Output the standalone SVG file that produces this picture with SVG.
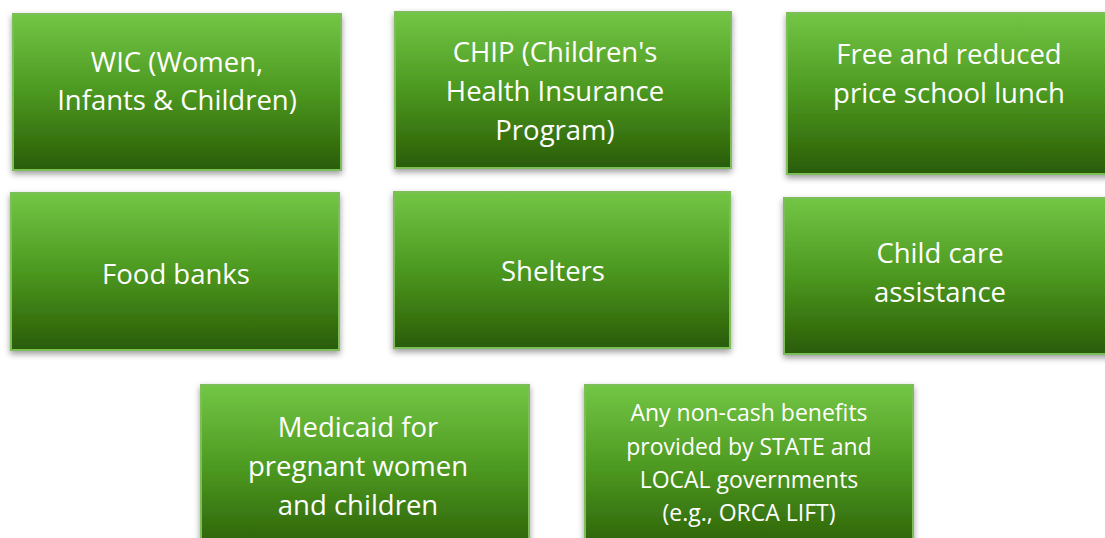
<svg xmlns="http://www.w3.org/2000/svg" width="1105" height="538" viewBox="0 0 1105 538">
  <defs>
    <linearGradient id="fillGreen" x1="0" y1="0" x2="0" y2="1">
      <stop offset="0" stop-color="#73c645"/>
      <stop offset="0.5" stop-color="#4c9820"/>
      <stop offset="1" stop-color="#2a5c06"/>
    </linearGradient>
    <filter id="shadow" x="-10%" y="-10%" width="120%" height="130%">
      <feDropShadow dx="0" dy="3" stdDeviation="3" flood-color="#000" flood-opacity="0.4"/>
    </filter>
  </defs>
  <style>
    .box { fill: url(#fillGreen); stroke: #7bbf58; stroke-width: 2; filter: url(#shadow); }
    .lbl { fill: #ffffff; font-family: "Open Sans", "Noto Sans", sans-serif; font-size: 27.5px; text-anchor: middle; }
    .small { font-size: 23px; }
  </style>
  <rect width="1105" height="538" fill="#ffffff"/>

  <g id="wic">
    <rect class="box" x="13" y="14" width="328" height="156"/>
    <text class="lbl" x="177"><tspan x="177" y="72">WIC (Women,</tspan><tspan x="177" y="110">Infants &amp; Children)</tspan></text>
  </g>

  <g id="chip">
    <rect class="box" x="395" y="12" width="336" height="156"/>
    <text class="lbl"><tspan x="555" y="62">CHIP (Children's</tspan><tspan x="555" y="101">Health Insurance</tspan><tspan x="555" y="140">Program)</tspan></text>
  </g>

  <g id="school-lunch">
    <rect class="box" x="787" y="13" width="330" height="161"/>
    <text class="lbl"><tspan x="949" y="64">Free and reduced</tspan><tspan x="949" y="103">price school lunch</tspan></text>
  </g>

  <g id="food-banks">
    <rect class="box" x="11" y="193" width="328" height="157"/>
    <text class="lbl" x="176" y="284">Food banks</text>
  </g>

  <g id="shelters">
    <rect class="box" x="394" y="192" width="336" height="156"/>
    <text class="lbl" x="553" y="281">Shelters</text>
  </g>

  <g id="child-care">
    <rect class="box" x="784" y="198" width="330" height="156"/>
    <text class="lbl"><tspan x="940" y="263">Child care</tspan><tspan x="940" y="302">assistance</tspan></text>
  </g>

  <g id="medicaid">
    <rect class="box" x="201" y="385" width="328" height="170"/>
    <text class="lbl"><tspan x="358" y="437">Medicaid for</tspan><tspan x="358" y="476">pregnant women</tspan><tspan x="358" y="515">and children</tspan></text>
  </g>

  <g id="non-cash">
    <rect class="box" x="585" y="385" width="328" height="170"/>
    <text class="lbl small"><tspan x="749" y="421">Any non-cash benefits</tspan><tspan x="749" y="455">provided by STATE and</tspan><tspan x="749" y="488">LOCAL governments</tspan><tspan x="749" y="521">(e.g., ORCA LIFT)</tspan></text>
  </g>

  <g id="connectors"></g>
</svg>
